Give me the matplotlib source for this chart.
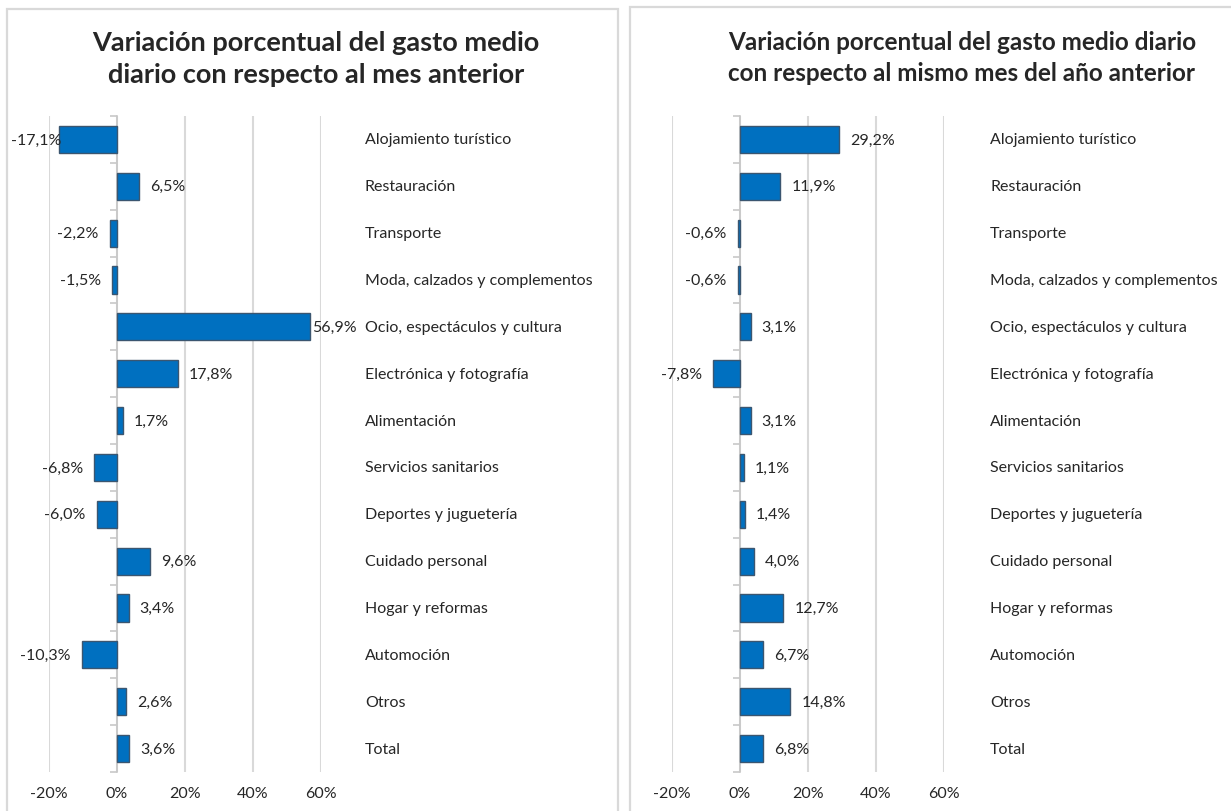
import matplotlib

matplotlib.use("Agg")
import matplotlib.pyplot as plt
import matplotlib.transforms as mtransforms
from matplotlib.patches import Rectangle

plt.rcParams["font.family"] = ["Lato", "DejaVu Sans"]

CATEGORIES = [
    "Alojamiento turístico",
    "Restauración",
    "Transporte",
    "Moda, calzados y complementos",
    "Ocio, espectáculos y cultura",
    "Electrónica y fotografía",
    "Alimentación",
    "Servicios sanitarios",
    "Deportes y juguetería",
    "Cuidado personal",
    "Hogar y reformas",
    "Automoción",
    "Otros",
    "Total",
]
VAR_MES_ANTERIOR = [-17.1, 6.5, -2.2, -1.5, 56.9, 17.8, 1.7, -6.8, -6.0, 9.6, 3.4, -10.3, 2.6, 3.6]
VAR_ANIO_ANTERIOR = [29.2, 11.9, -0.6, -0.6, 3.1, -7.8, 3.1, 1.1, 1.4, 4.0, 12.7, 6.7, 14.8, 6.8]
X_TICKS = [-20, 0, 20, 40, 60]
TITLE_LEFT = "Variación porcentual del gasto medio\ndiario con respecto al mes anterior"
TITLE_RIGHT = "Variación porcentual del gasto medio diario\ncon respecto al mismo mes del año anterior"

W, H = 1231, 812
BAR_COLOR = "#0070C0"
BAR_EDGE = "#3B5670"
GRID = "#D9D9D9"
TEXT = "#262626"


def px(x0, y0, x1, y1):
    """pixel box (top-left origin) -> figure fraction rect"""
    return [x0 / W, 1 - y1 / H, (x1 - x0) / W, (y1 - y0) / H]


def fmt(v):
    return f"{v:.1f}%".replace(".", ",")


def draw_panel(fig, rect, values, label_x):
    ax = fig.add_axes(rect)
    n = len(CATEGORIES)
    ypos = list(range(n))
    ax.barh(ypos, values, height=0.58, color=BAR_COLOR, edgecolor=BAR_EDGE, linewidth=1.0, zorder=3)
    ax.set_xlim(-20, 60)
    ax.set_ylim(n - 0.5, -0.5)
    ax.set_xticks(X_TICKS)
    ax.set_xticklabels([f"{t}%" for t in X_TICKS])
    ax.tick_params(axis="x", length=0, pad=10, labelsize=11.5, labelcolor=TEXT)
    ax.grid(axis="x", color=GRID, linewidth=1.5, zorder=0)
    for s in ("top", "right", "bottom"):
        ax.spines[s].set_visible(False)
    ax.spines["left"].set_position(("data", 0))
    ax.spines["left"].set_color("#C8C8C8")
    ax.spines["left"].set_linewidth(1.2)
    ax.spines["left"].set_zorder(2)
    ax.set_yticks([i - 0.5 for i in range(n + 1)])
    ax.set_yticklabels([])
    ax.tick_params(axis="y", length=5, color="#C8C8C8", width=1.2)

    for y, v in zip(ypos, values):
        # labels that would run out of the chart are pulled back onto the bar end
        if v > 50:
            pad = 1
        elif v < -15:
            pad = -2
        else:
            pad = 8
        if v >= 0:
            ax.annotate(fmt(v), (v, y), xytext=(pad, 0), textcoords="offset points",
                        ha="left", va="center", fontsize=11.5, color=TEXT, zorder=4)
        else:
            ax.annotate(fmt(v), (v, y), xytext=(-pad, 0), textcoords="offset points",
                        ha="right", va="center", fontsize=11.5, color=TEXT, zorder=4,
                        clip_on=False)

    trans = mtransforms.blended_transform_factory(ax.transAxes, ax.transData)
    for y, cat in zip(ypos, CATEGORIES):
        ax.text(label_x, y, cat, transform=trans, ha="left", va="center",
                fontsize=11.5, color=TEXT, clip_on=False)
    return ax


fig = plt.figure(figsize=(W / 100, H / 100), dpi=100)

# panel borders
fig.add_artist(Rectangle((7 / W, -0.05), (618 - 7) / W, 1.05 - 10 / H, transform=fig.transFigure,
                         fill=False, edgecolor=GRID, linewidth=1.6))
fig.add_artist(Rectangle((630 / W, -0.05), 0.5, 1.05 - 8 / H, transform=fig.transFigure,
                         fill=False, edgecolor=GRID, linewidth=1.6))

draw_panel(fig, px(49, 117, 321, 773), VAR_MES_ANTERIOR, (365 - 49) / 272)
draw_panel(fig, px(672, 117, 944, 773), VAR_ANIO_ANTERIOR, (990 - 672) / 272)

fig.text(316 / W, 1 - 59 / H, TITLE_LEFT, ha="center", va="center", fontsize=19.5,
         fontweight="bold", color=TEXT, linespacing=1.38)
fig.text(962 / W, 1 - 58 / H, TITLE_RIGHT, ha="center", va="center", fontsize=17.5,
         fontweight="bold", color=TEXT, linespacing=1.45)

fig.savefig("out.png", dpi=100)
